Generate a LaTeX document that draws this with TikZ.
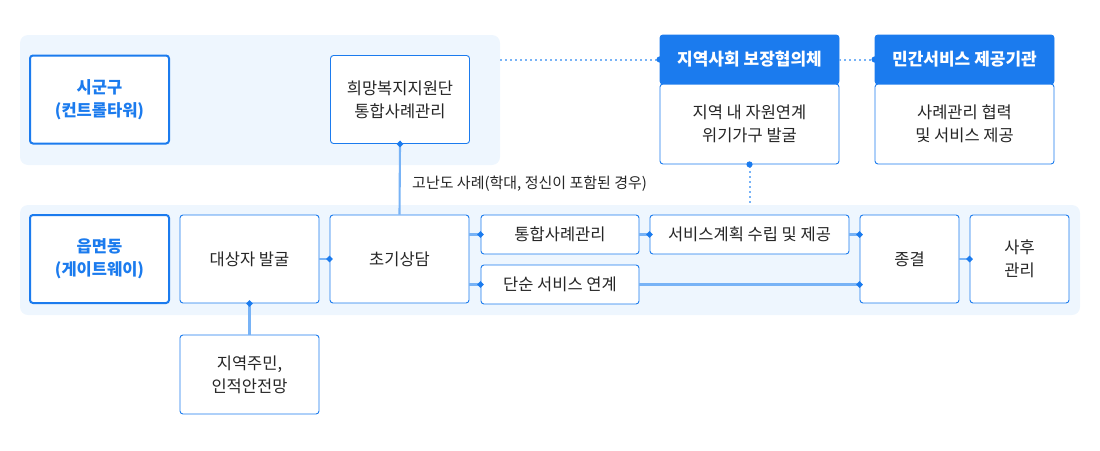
\documentclass[tikz,border=0pt]{standalone}
\usepackage{fontspec}
\setmainfont{Noto Sans CJK KR}
\usetikzlibrary{arrows.meta}
\definecolor{mainblue}{HTML}{1B7BEE}
\definecolor{lineblue}{HTML}{78B3F6}
\definecolor{zonebg}{HTML}{EEF6FE}
\definecolor{txtgray}{HTML}{262626}

\begin{document}
\begin{tikzpicture}[x=1pt,y=1pt]
  \tikzset{zone/.style = {fill=zonebg, rounded corners=8pt, inner sep=0pt}}
  \tikzset{unit/.style = {draw=mainblue, line width=0.9pt, fill=white, rounded corners=3pt, inner sep=0pt, align=center, text=txtgray, font=\fontsize{16.5}{23}\selectfont}}
  \tikzset{hub/.style = {unit, line width=2pt, text=mainblue, font=\fontsize{16.5}{23}\selectfont\bfseries}}
  \tikzset{head/.style = {unit, fill=mainblue, text=white, font=\fontsize{17}{23}\selectfont\bfseries}}
  \tikzset{link/.style = {color=lineblue, line width=2.1pt}}
  \tikzset{dotlink/.style = {color=lineblue, line width=2pt, dash pattern=on 2pt off 3pt}}
  \tikzset{%
  dotA/.tip={Circle[length=6pt,width=6pt,color=mainblue]},
}

  \useasboundingbox (0,0) rectangle (1100,-450);

  % zones
  \node[zone, minimum width=480pt, minimum height=130pt] (topzone) at (260,-100) {};
  \node[zone, minimum width=1060pt, minimum height=110pt] (lowzone) at (550,-260) {};

  % upper level
  \node[hub, minimum width=139pt, minimum height=88pt] (sigungu) at (99.5,-99.5) {시군구\\(컨트롤타워)};
  \node[unit, minimum width=139pt, minimum height=88pt] (welfare) at (400,-99.5) {희망복지지원단\\통합사례관리};
  \node[unit, minimum width=179pt, minimum height=80pt] (bodyA) at (749.5,-124) {지역 내 자원연계\\위기가구 발굴};
  \node[head, minimum width=179pt, minimum height=49pt] (headA) at (749.5,-59.5) {지역사회 보장협의체};
  \node[unit, minimum width=179pt, minimum height=80pt] (bodyB) at (964.5,-124) {사례관리 협력\\및 서비스 제공};
  \node[head, minimum width=179pt, minimum height=49pt] (headB) at (964.5,-59.5) {민간서비스 제공기관};

  % lower level
  \node[hub, minimum width=139pt, minimum height=88pt] (eupmyeon) at (99.5,-259) {읍면동\\(게이트웨이)};
  \node[unit, minimum width=139pt, minimum height=88pt] (find) at (249.5,-259) {대상자 발굴};
  \node[unit, minimum width=139pt, minimum height=88pt] (consult) at (399.5,-259) {초기상담};
  \node[unit, minimum width=158pt, minimum height=39pt] (integ) at (560,-234.5) {통합사례관리};
  \node[unit, minimum width=158pt, minimum height=39pt] (simple) at (560,-284.5) {단순 서비스 연계};
  \node[unit, minimum width=199pt, minimum height=39pt] (plan) at (749.5,-234.5) {서비스계획 수립 및 제공};
  \node[unit, minimum width=99pt, minimum height=88pt] (close) at (909.5,-259) {종결};
  \node[unit, minimum width=99pt, minimum height=88pt] (after) at (1019.5,-259) {사후\\관리};
  \node[unit, minimum width=139pt, minimum height=79pt] (resid) at (249.5,-374.5) {지역주민,\\인적안전망};

  \node[anchor=west, inner sep=0pt, text=txtgray, font=\fontsize{15}{18}\selectfont] (hardcase) at (412,-184) {고난도 사례(학대, 정신이 포함된 경우)};

  % connectors
  \foreach \from/\to in {find.east/consult.west, integ.east/plan.west, close.east/after.west}
    \draw[link, -dotA, shorten >=-3pt] (\from) -- (\to);
  \draw[link, -dotA, shorten >=-3pt] (consult.east |- integ.west) -- (integ.west);
  \draw[link, -dotA, shorten >=-3pt] (consult.east |- simple.west) -- (simple.west);
  \draw[link, -dotA, shorten >=-3pt] (plan.east) -- (plan.east -| close.west);
  \draw[link, -dotA, shorten >=-3pt] (simple.east) -- (simple.east -| close.west);
  \draw[link, dotA-, shorten <=-3pt] (welfare.south) -- (consult.north);
  \draw[link, dotA-, shorten <=-3pt] (find.south) -- (resid.north);

  \draw[dotlink, -dotA, shorten >=-3pt] (topzone.east |- headA.west) -- (headA.west);
  \draw[dotlink, -dotA, shorten >=-3pt] (headA.east) -- (headB.west);
  \draw[dotlink, dotA-, shorten <=-3pt] (bodyA.south) -- (bodyA.south |- lowzone.north);

\end{tikzpicture}
\end{document}
